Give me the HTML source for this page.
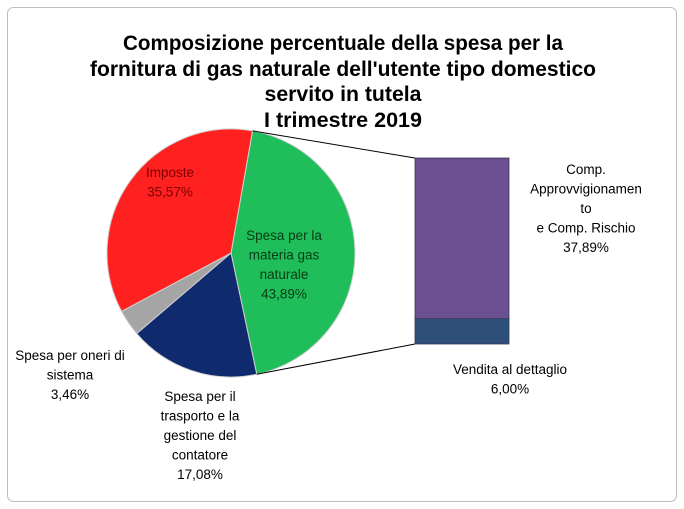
<!DOCTYPE html>
<html><head><meta charset="utf-8"><style>
html,body{margin:0;padding:0;background:#fff;}
svg{display:block;font-family:"Liberation Sans",sans-serif;}
</style></head><body>
<svg id="chart" width="684" height="509" viewBox="0 0 684 509">
<rect x="7.5" y="7.5" width="669" height="494" rx="6" fill="#fff" stroke="#bdbdbd"/>
<g font-weight="bold" font-size="21" text-anchor="middle" fill="#000">
<text x="343" y="50" textLength="440" lengthAdjust="spacingAndGlyphs">Composizione percentuale della spesa per la</text>
<text x="343" y="76" textLength="506" lengthAdjust="spacingAndGlyphs">fornitura di gas naturale dell'utente tipo domestico</text>
<text x="343" y="101" textLength="157" lengthAdjust="spacingAndGlyphs">servito in tutela</text>
<text x="343" y="127" textLength="158" lengthAdjust="spacingAndGlyphs">I trimestre 2019</text>
</g>
<g id="pie"></g>
<g id="bar"></g>
<g id="labels" font-size="13.5"></g>
</svg>
<script>
const categories=["Spesa per la materia gas naturale","Spesa per il trasporto e la gestione del contatore","Spesa per oneri di sistema","Imposte"];
const values=[43.89,17.08,3.46,35.57];
const colors=["#1fbe5a","#102a6e","#a5a5a5","#ff2020"];
const barCategories=["Vendita al dettaglio","Comp. Approvvigionamento e Comp. Rischio"];
const barValues=[6.00,37.89];
const NS="http://www.w3.org/2000/svg";
const cx=231,cy=253,r=124,startDeg=10;
function pt(deg){const a=deg*Math.PI/180;return [cx+r*Math.sin(a),cy-r*Math.cos(a)];}
const total=values.reduce((a,b)=>a+b,0);
const pie=document.getElementById('pie');
let ang=startDeg;const ends=[];
values.forEach((v,i)=>{
  const sweep=v/total*360;const p1=pt(ang),p2=pt(ang+sweep);
  const el=document.createElementNS(NS,'path');
  el.setAttribute('d',`M${cx},${cy}L${p1[0]},${p1[1]}A${r},${r} 0 ${sweep>180?1:0} 1 ${p2[0]},${p2[1]}Z`);
  el.setAttribute('fill',colors[i]);el.setAttribute('stroke','#d0d0d0');el.setAttribute('stroke-width','1');
  
  
  pie.appendChild(el);ends.push([ang,ang+sweep]);ang+=sweep;
});
const bar=document.getElementById('bar');
const bx=415,bw=94,btop=158,bbot=344;
const bsum=barValues.reduce((a,b)=>a+b,0);
let y=bbot;const bcol=["#2d4f7a","#6a5090"];
barValues.forEach((v,i)=>{
  const h=v/bsum*(bbot-btop);
  const el=document.createElementNS(NS,'rect');
  el.setAttribute('x',bx);el.setAttribute('y',y-h);el.setAttribute('width',bw);el.setAttribute('height',h);
  el.setAttribute('fill',bcol[i]);el.setAttribute('stroke','#3a3a5a');el.setAttribute('stroke-width','0.8');
  
  
  bar.appendChild(el);y-=h;
});
const pa=pt(ends[0][0]),pb=pt(ends[0][1]);
[[pa,[bx,btop]],[pb,[bx,bbot]]].forEach((l,i)=>{
  const el=document.createElementNS(NS,'line');
  el.setAttribute('x1',l[0][0]);el.setAttribute('y1',l[0][1]);el.setAttribute('x2',l[1][0]);el.setAttribute('y2',l[1][1]);
  el.setAttribute('stroke','#000');el.setAttribute('stroke-width','1');
  
  
  bar.appendChild(el);
});
function fmt(v){return v.toFixed(2).replace('.',',')+'%';}
const lab=document.getElementById('labels');
function addLabel(name,lines,x,y0,fill){
  const t=document.createElementNS(NS,'text');
  t.setAttribute('text-anchor','middle');t.setAttribute('fill',fill);
  
  
  lines.forEach((s,i)=>{const ts=document.createElementNS(NS,'tspan');ts.setAttribute('x',x);ts.setAttribute('y',y0+i*19.5);ts.textContent=s;t.appendChild(ts);});
  lab.appendChild(t);
}
addLabel('label-materia',['Spesa per la','materia gas','naturale',fmt(values[0])],284,240,'#0a3a14');
addLabel('label-imposte',['Imposte',fmt(values[3])],170,177,'#7a0000');
addLabel('label-oneri',['Spesa per oneri di','sistema',fmt(values[2])],70,360,'#000');
addLabel('label-trasporto',['Spesa per il','trasporto e la','gestione del','contatore',fmt(values[1])],200,401,'#000');
addLabel('label-approvvigionamento',['Comp.','Approvvigionamen','to','e  Comp. Rischio',fmt(barValues[1])],586,174,'#000');
addLabel('label-vendita',['Vendita al dettaglio',fmt(barValues[0])],510,374,'#000');
</script>
</body></html>
